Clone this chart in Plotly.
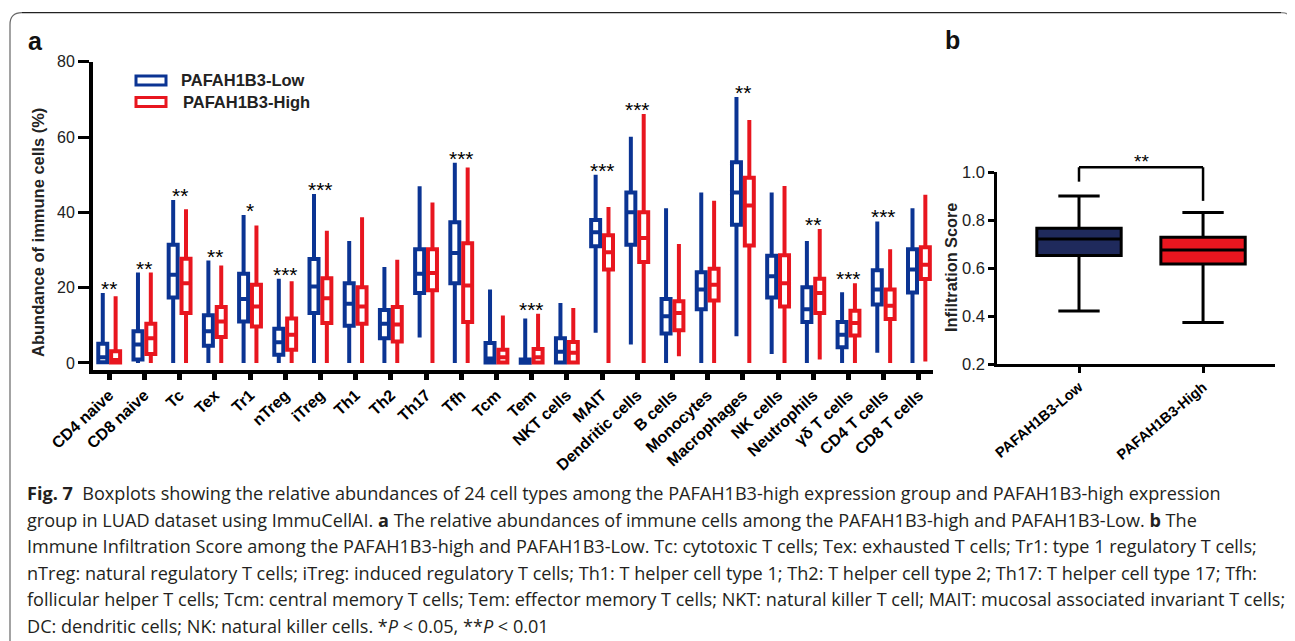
import plotly.graph_objects as go

# page body adds an 8px margin, so the figure is drawn 8px smaller and offset
OFF = 8
W, H = 1295 - OFF, 641 - OFF

# ---------------- data: panel a ----------------
categories = ["CD4 naive", "CD8 naive", "Tc", "Tex", "Tr1", "nTreg", "iTreg", "Th1", "Th2",
              "Th17", "Tfh", "Tcm", "Tem", "NKT cells", "MAIT", "Dendritic cells", "B cells",
              "Monocytes", "Macrophages", "NK cells", "Neutrophils", "γδ T cells",
              "CD4 T cells", "CD8 T cells"]

low_lower = [0, 0, 0, 0, 0, 0, 0, 0, 0, 6.8, 0, 0, 0, 0, 8.0, 4.9, 0, 0, 7.1, 2.4, 0, 0, 2.7, 0]
low_q1 = [0.2, 0.9, 17.4, 4.6, 11.0, 2.2, 13.3, 9.9, 6.6, 18.6, 21.2, 0.1, 0.05, 0.1, 31.0,
          31.4, 7.8, 14.3, 36.7, 17.4, 10.9, 4.2, 15.5, 18.7]
low_median = [1.5, 4.9, 23.4, 8.4, 17.0, 5.5, 20.3, 15.7, 10.4, 23.7, 29.2, 1.2, 0.3, 3.0, 34.7,
              40.0, 12.4, 19.5, 45.3, 23.0, 14.3, 7.5, 19.5, 24.8]
low_q3 = [5.1, 8.4, 31.4, 12.7, 23.7, 9.1, 27.6, 21.2, 14.1, 30.2, 37.4, 5.3, 0.9, 6.6, 38.0,
          45.3, 17.0, 24.1, 53.3, 28.5, 20.1, 10.9, 24.6, 30.2]
low_upper = [18.6, 24.0, 43.3, 27.2, 39.3, 22.4, 44.9, 32.4, 25.5, 46.9, 53.2, 19.5, 11.8, 15.9,
             50.0, 60.1, 41.1, 45.3, 70.6, 45.3, 32.4, 18.8, 37.6, 41.1]

high_lower = [0, 0, 0, 0, 0, 0, 0, 0, 0, 0, 0, 0, 0, 0, 0, 0, 1.8, 0, 0, 0, 0.9, 0, 0, 0.4]
high_q1 = [0.1, 2.4, 13.3, 6.9, 9.7, 3.5, 10.6, 10.4, 5.7, 19.3, 10.9, 0.1, 0.1, 0.1, 24.8,
           26.8, 8.7, 16.6, 31.2, 15.0, 13.3, 7.3, 11.7, 22.3]
high_median = [0.8, 6.6, 21.2, 11.0, 15.0, 7.5, 17.2, 15.0, 10.2, 23.9, 20.6, 1.5, 1.5, 2.7,
               29.4, 33.2, 13.3, 20.8, 41.8, 21.2, 18.6, 10.6, 15.2, 26.1]
high_q3 = [3.1, 10.4, 27.7, 14.9, 20.8, 11.8, 22.5, 20.1, 14.9, 30.2, 31.8, 3.5, 3.7, 5.6, 33.9,
           40.0, 16.4, 25.0, 49.2, 28.6, 22.4, 13.9, 19.5, 30.7]
high_upper = [17.7, 24.0, 40.8, 25.9, 36.5, 21.7, 35.1, 38.7, 27.4, 42.6, 51.9, 12.6, 13.1, 14.6,
              41.4, 66.1, 31.6, 43.1, 64.5, 47.0, 35.6, 21.2, 30.2, 44.7]

significance = ["**", "**", "**", "**", "*", "***", "***", "", "", "", "***", "", "***", "",
                "***", "***", "", "", "**", "", "**", "***", "***", ""]

a_yticks = [0, 20, 40, 60, 80]

# ---------------- data: panel b ----------------
groups_b = ["PAFAH1B3-Low", "PAFAH1B3-High"]
b_lower = [0.422, 0.374]
b_q1 = [0.653, 0.618]
b_median = [0.722, 0.676]
b_q3 = [0.767, 0.729]
b_upper = [0.901, 0.833]
b_sig = "**"
b_yticks = [0.2, 0.4, 0.6, 0.8, 1.0]

caption_lines = [
    "<b>Fig. 7</b>  Boxplots showing the relative abundances of 24 cell types among the PAFAH1B3-high expression group and PAFAH1B3-high expression",
    "group in LUAD dataset using ImmuCellAI. <b>a</b> The relative abundances of immune cells among the PAFAH1B3-high and PAFAH1B3-Low. <b>b</b> The",
    "Immune Infiltration Score among the PAFAH1B3-high and PAFAH1B3-Low. Tc: cytotoxic T cells; Tex: exhausted T cells; Tr1: type 1 regulatory T cells;",
    "nTreg: natural regulatory T cells; iTreg: induced regulatory T cells; Th1: T helper cell type 1; Th2: T helper cell type 2; Th17: T helper cell type 17; Tfh:",
    "follicular helper T cells; Tcm: central memory T cells; Tem: effector memory T cells; NKT: natural killer T cell; MAIT: mucosal associated invariant T cells;",
    "DC: dendritic cells; NK: natural killer cells. *<i>P</i> &lt; 0.05, **<i>P</i> &lt; 0.01",
]

BLUE = "#0b3493"
RED = "#e8161f"
NAVY = "#1f2a5c"
FONT = "Liberation Sans, Arial, sans-serif"


def px(x):
    return (x - OFF) / W


def py(y):
    return 1 - (y - OFF) / H


# layout geometry (window pixels)
A_X0, A_X1, A_Y0, A_Y1 = 93, 933, 370, 61.7
B_X0, B_X1, B_Y0, B_Y1 = 997, 1275, 364.3, 172.3
a_yrange = [-1.86, 80]
b_yrange = [0.2, 1.0]

fig = go.Figure()

fig.add_trace(go.Box(
    x=categories, q1=low_q1, median=low_median, q3=low_q3,
    lowerfence=low_lower, upperfence=low_upper,
    name="PAFAH1B3-Low", offsetgroup="low", whiskerwidth=0,
    line=dict(color=BLUE, width=4), fillcolor="white",
    xaxis="x", yaxis="y", showlegend=False, hoverinfo="skip"))
fig.add_trace(go.Box(
    x=categories, q1=high_q1, median=high_median, q3=high_q3,
    lowerfence=high_lower, upperfence=high_upper,
    name="PAFAH1B3-High", offsetgroup="high", whiskerwidth=0,
    line=dict(color=RED, width=4), fillcolor="white",
    xaxis="x", yaxis="y", showlegend=False, hoverinfo="skip"))

for i, (g, col) in enumerate(zip(groups_b, [NAVY, RED])):
    fig.add_trace(go.Box(
        x=[g], q1=[b_q1[i]], median=[b_median[i]], q3=[b_q3[i]],
        lowerfence=[b_lower[i]], upperfence=[b_upper[i]],
        name=g, offsetgroup="b", width=0.68, whiskerwidth=0.49,
        line=dict(color="black", width=3), fillcolor=col,
        xaxis="x2", yaxis="y2", showlegend=False, hoverinfo="skip"))

annotations = []
shapes = []

# significance stars panel a
for c, s, u1, u2 in zip(categories, significance, low_upper, high_upper):
    if s:
        annotations.append(dict(x=c, y=max(u1, u2), xref="x", yref="y", text=s,
                                showarrow=False, xanchor="center", yanchor="bottom", yshift=-9,
                                font=dict(family=FONT, size=21, color="black")))


def b_py(v):
    frac = (v - b_yrange[0]) / (b_yrange[1] - b_yrange[0])
    return py(B_Y0) + frac * (py(B_Y1) - py(B_Y0))


# bracket panel b (above the axis range, so in paper y)
brk_top = 1.021
shapes.append(dict(type="line", xref="x2", yref="paper", x0=groups_b[0], x1=groups_b[0],
                   y0=b_py(0.961), y1=b_py(brk_top), line=dict(color="black", width=2.5)))
shapes.append(dict(type="line", xref="x2", yref="paper", x0=groups_b[0], x1=groups_b[1],
                   y0=b_py(brk_top), y1=b_py(brk_top), line=dict(color="black", width=2.5)))
shapes.append(dict(type="line", xref="x2", yref="paper", x0=groups_b[1], x1=groups_b[1],
                   y0=b_py(0.881), y1=b_py(brk_top), line=dict(color="black", width=2.5)))
annotations.append(dict(x=0.5, y=b_py(brk_top), xref="x2", yref="paper", text=b_sig,
                        showarrow=False, xanchor="center", yanchor="bottom", yshift=-7,
                        font=dict(family=FONT, size=19, color="black")))

# legend (manual)
for (yc, col, label, tx) in [(80.5, BLUE, "PAFAH1B3-Low", 179), (102, RED, "PAFAH1B3-High", 181)]:
    shapes.append(dict(type="rect", xref="paper", yref="paper",
                       x0=px(136), x1=px(166), y0=py(yc - 4.5), y1=py(yc + 4.5),
                       line=dict(color=col, width=3), fillcolor="white"))
    annotations.append(dict(x=px(tx), y=py(yc), xref="paper", yref="paper", text=f"<b>{label}</b>",
                            showarrow=False, xanchor="left", yanchor="middle",
                            font=dict(family=FONT, size=16.5, color="#222")))

# axis titles
annotations.append(dict(x=px(38), y=py(233), xref="paper", yref="paper",
                        text="<b>Abundance of immune cells (%)</b>", textangle=-90,
                        showarrow=False, xanchor="center", yanchor="middle",
                        font=dict(family=FONT, size=16.5, color="#222")))
annotations.append(dict(x=px(951), y=py(268), xref="paper", yref="paper",
                        text="<b>Infiltration Score</b>", textangle=-90,
                        showarrow=False, xanchor="center", yanchor="middle",
                        font=dict(family=FONT, size=16.3, color="#222")))

# panel letters
annotations.append(dict(x=px(35), y=py(41), xref="paper", yref="paper", text="<b>a</b>",
                        showarrow=False, xanchor="center", yanchor="middle",
                        font=dict(family=FONT, size=25, color="#111")))
annotations.append(dict(x=px(952), y=py(40), xref="paper", yref="paper", text="<b>b</b>",
                        showarrow=False, xanchor="center", yanchor="middle",
                        font=dict(family=FONT, size=25, color="#111")))

# caption
for k, line in enumerate(caption_lines):
    annotations.append(dict(x=px(25), y=py(493 + 26.5 * k), xref="paper", yref="paper",
                            text=line, showarrow=False, xanchor="left", yanchor="middle",
                            font=dict(family="Open Sans, sans-serif", size=18.1, color="#231f20")))

# frame
fr_l, fr_r, fr_t, rad = 10, 1293, 12.7, 12
shapes.append(dict(type="line", xref="paper", yref="paper", x0=px(fr_l + rad), x1=px(fr_r - rad),
                   y0=py(fr_t), y1=py(fr_t), line=dict(color="#222", width=1.3)))
shapes.append(dict(type="path", xref="paper", yref="paper",
                   path=f"M {px(fr_l)},{py(660)} L {px(fr_l)},{py(fr_t + rad)} "
                        f"Q {px(fr_l)},{py(fr_t)} {px(fr_l + rad)},{py(fr_t)}",
                   line=dict(color="#666", width=1.2)))
shapes.append(dict(type="path", xref="paper", yref="paper",
                   path=f"M {px(fr_r)},{py(660)} L {px(fr_r)},{py(fr_t + rad)} "
                        f"Q {px(fr_r)},{py(fr_t)} {px(fr_r - rad)},{py(fr_t)}",
                   line=dict(color="#888", width=1.2)))

fig.update_layout(
    width=W, height=H, margin=dict(l=0, r=0, t=0, b=0, autoexpand=False),
    paper_bgcolor="white", plot_bgcolor="white",
    boxmode="group", boxgap=0.27, boxgroupgap=0.3,
    font=dict(family=FONT),
    xaxis=dict(domain=[px(A_X0), px(A_X1)], anchor="y", type="category", automargin=False,
               range=[-0.46, 23.4], showline=True, linecolor="black", linewidth=3.5,
               ticks="outside", ticklen=6, tickwidth=5, tickcolor="black",
               tickangle=-43, tickfont=dict(family=FONT, size=16, color="black"),
               tickprefix="<b>", ticksuffix="</b>",
               showgrid=False, zeroline=False),
    yaxis=dict(domain=[py(A_Y0), py(A_Y1)], anchor="x", range=a_yrange, automargin=False,
               tickvals=a_yticks, showline=True, linecolor="black", linewidth=4,
               ticks="outside", ticklen=11, tickwidth=3, tickcolor="black",
               tickfont=dict(family=FONT, size=16, color="#222"),
               showgrid=False, zeroline=False),
    xaxis2=dict(domain=[px(B_X0), px(B_X1)], anchor="y2", type="category", automargin=False,
                range=[-0.661, 1.58], showline=True, linecolor="black", linewidth=2.5,
                ticks="outside", ticklen=6, tickwidth=2.5, tickcolor="black",
                tickangle=-40, tickfont=dict(family=FONT, size=14.5, color="black"),
                tickprefix="<b>", ticksuffix="</b>",
                showgrid=False, zeroline=False),
    yaxis2=dict(domain=[py(B_Y0), py(B_Y1)], anchor="x2", range=b_yrange, automargin=False,
                tickvals=b_yticks, tickformat=".1f", showline=True, linecolor="black",
                linewidth=2.5, ticks="outside", ticklen=6, tickwidth=2.5, tickcolor="black",
                tickfont=dict(family=FONT, size=16.5, color="#222"),
                showgrid=False, zeroline=False),
    annotations=annotations, shapes=shapes,
)

fig.write_html("out.html")
